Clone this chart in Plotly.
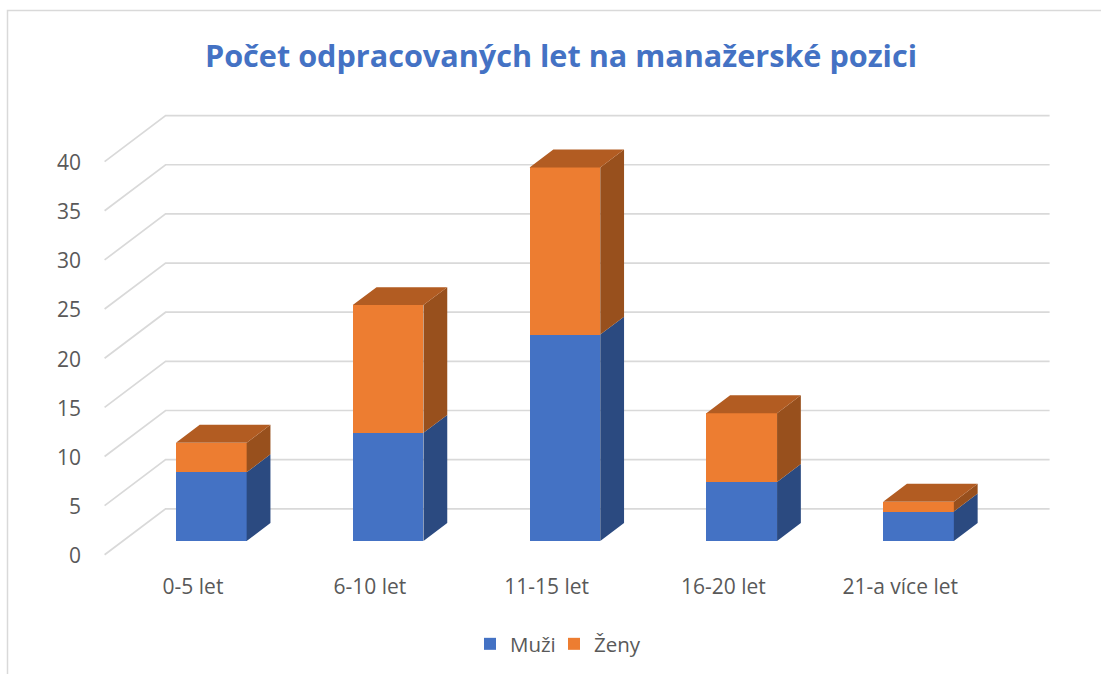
import plotly.graph_objects as go

categories = ["0-5 let", "6-10 let", "11-15 let", "16-20 let", "21-a více let"]
muzi = [7, 11, 21, 6, 3]
zeny = [3, 13, 17, 7, 1]
y_ticks = [0, 5, 10, 15, 20, 25, 30, 35, 40]

# pseudo 3D: the depth of the floor expressed in axis units
DEPTH_X = 0.345
DEPTH_Y = 4.68
BAR_FRONT = 0.30   # where the bar front sits inside the depth
BAR_DEPTH = 0.39
BAR_WIDTH = 0.40
LABEL_DROP = 0.1   # y tick labels sit a little under the gridline ends

BLUE, BLUE_SIDE = "#4472C4", "#2B4A80"
ORANGE, ORANGE_SIDE, ORANGE_TOP = "#ED7D31", "#98501D", "#B25C22"
GRID = "#D9D9D9"
TEXT = "#595959"
FONT = "Open Sans"

bar_x = [i + BAR_FRONT * DEPTH_X for i in range(len(categories))]
dx = BAR_DEPTH * DEPTH_X
dy = BAR_DEPTH * DEPTH_Y


def side_polys(bottoms, tops):
    xs, ys = [], []
    for x, b, t in zip(bar_x, bottoms, tops):
        r = x + BAR_WIDTH / 2
        xs += [r, r + dx, r + dx, r, r, None]
        ys += [b, b + dy, t + dy, t, b, None]
    return xs, ys


def top_polys(tops):
    xs, ys = [], []
    for x, t in zip(bar_x, tops):
        l, r = x - BAR_WIDTH / 2, x + BAR_WIDTH / 2
        xs += [l, r, r + dx, l + dx, l, None]
        ys += [t, t, t + dy, t + dy, t, None]
    return xs, ys


totals = [a + b for a, b in zip(muzi, zeny)]

fig = go.Figure()
fig.add_trace(go.Bar(x=bar_x, y=muzi, width=BAR_WIDTH, name="Muži", marker=dict(color=BLUE, line_width=0)))
fig.add_trace(go.Bar(x=bar_x, y=zeny, width=BAR_WIDTH, name="Ženy", marker=dict(color=ORANGE, line_width=0)))
# empty entry, only keeps the legend box wide enough for the last label
fig.add_trace(go.Bar(x=[None], y=[None], name=" ", marker=dict(color="rgba(0,0,0,0)", line_width=0), hoverinfo="skip"))

for (xs, ys), col in [
    (side_polys([0] * len(muzi), muzi), BLUE_SIDE),
    (side_polys(muzi, totals), ORANGE_SIDE),
    (top_polys(totals), ORANGE_TOP),
]:
    fig.add_trace(go.Scatter(x=xs, y=ys, mode="lines", fill="toself", fillcolor=col,
                             line=dict(width=0, color=col), showlegend=False, hoverinfo="skip"))

# wall and floor gridlines, under the bars
x_front = -0.5
x_back = x_front + DEPTH_X
x_end = x_back + len(categories)
for v in y_ticks:
    y_f = v - BAR_FRONT * DEPTH_Y
    y_b = y_f + DEPTH_Y
    fig.add_shape(type="path", xref="x", yref="y", layer="below",
                  path=f"M {x_front} {y_f} L {x_back} {y_b} L {x_end} {y_b}",
                  line=dict(color=GRID, width=1.7))

# plot area in pixels
W, H = 1101, 674
L, R, T, B = 92, 1060, 100, 572
PX_X = 176.8
PX_Y = 9.83
X0_PX = 193
Y0_PX = 541

# chart frame, open on the right and at the bottom
fx = (7.5 - L) / (R - L)
fy = (B - 10.5) / (B - T)
fig.add_shape(type="path", xref="paper", yref="paper", layer="below",
              path=f"M {fx} {(B - H) / (B - T)} L {fx} {fy} L {(W - L) / (R - L)} {fy}",
              line=dict(color=GRID, width=1.5))

fig.update_layout(
    width=W, height=H,
    margin=dict(l=L, r=W - R, t=T, b=H - B, pad=0),
    paper_bgcolor="white", plot_bgcolor="white",
    barmode="stack",
    font=dict(family=FONT, size=21, color=TEXT),
    title=dict(text="<b>Počet odpracovaných let na manažerské pozici</b>",
               font=dict(family=FONT, size=30.6, color=BLUE),
               x=561 / W, xanchor="center", y=1 - 56 / H, yanchor="middle"),
    xaxis=dict(range=[(L - X0_PX) / PX_X, (R - X0_PX) / PX_X],
               tickmode="array", tickvals=list(range(len(categories))), ticktext=categories,
               showgrid=False, zeroline=False, showline=False, ticks="", ticklabelstandoff=0),
    yaxis=dict(range=[(Y0_PX - B) / PX_Y, (Y0_PX - T) / PX_Y],
               tickmode="array", tickvals=[v - BAR_FRONT * DEPTH_Y - LABEL_DROP for v in y_ticks],
               ticktext=[str(v) for v in y_ticks],
               showgrid=False, zeroline=False, showline=False, ticks="", ticklabelstandoff=10),
    legend=dict(orientation="h", traceorder="normal", xref="container", yref="container",
                x=470 / W, xanchor="left", y=1 - 644 / H, yanchor="middle",
                entrywidth=39, entrywidthmode="pixels",
                bgcolor="rgba(0,0,0,0)", font=dict(size=20.5, color=TEXT)),
    showlegend=True,
)

fig.write_html("out.html", config=dict(displayModeBar=False),
               post_script="document.body.style.margin='0';document.body.style.overflow='hidden';")
